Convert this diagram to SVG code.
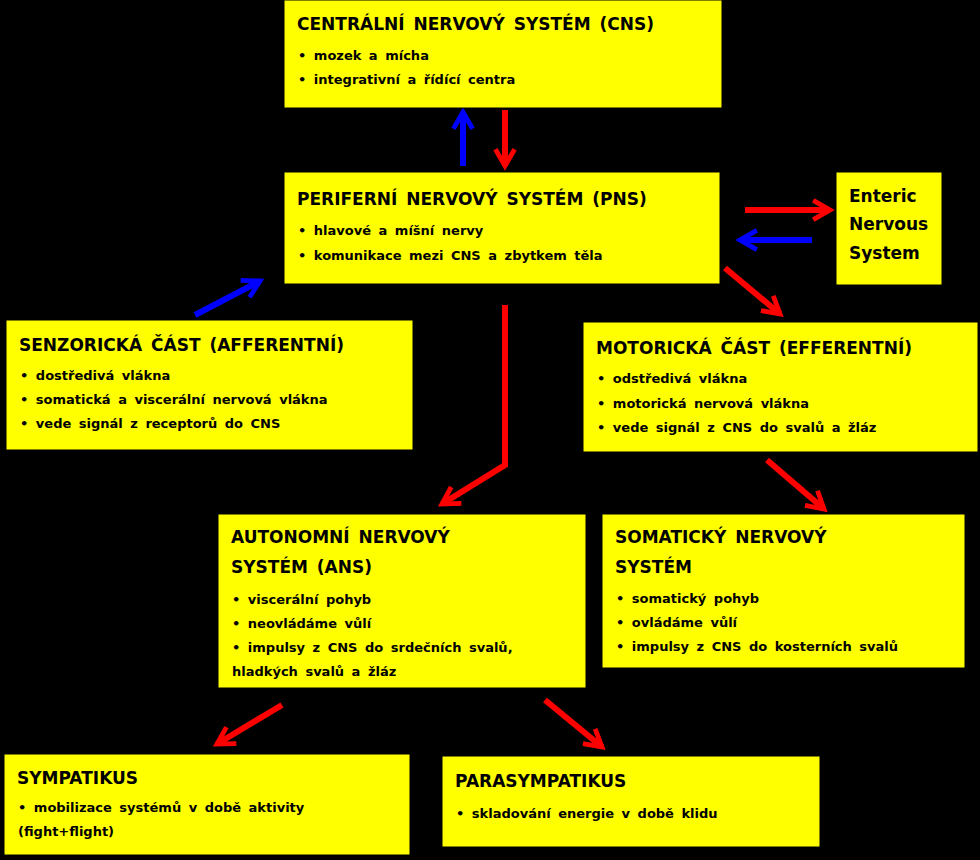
<svg xmlns="http://www.w3.org/2000/svg" width="980" height="860" viewBox="0 0 980 860">
<style>
.b{fill:#ffff00;stroke:#000;stroke-width:1}
.t{font-family:"DejaVu Sans",sans-serif;font-weight:bold;font-size:17px;fill:#000;word-spacing:3px}
.s{font-family:"DejaVu Sans",sans-serif;font-weight:bold;font-size:13px;fill:#000;word-spacing:3px}
.r{stroke:#ff0000;stroke-width:6;fill:none}
.u{stroke:#0000ff;stroke-width:6;fill:none}
</style>
<defs>
<marker id="mr" viewBox="0 0 10 10" refX="8" refY="5" markerWidth="4" markerHeight="4" orient="auto" markerUnits="strokeWidth"><polyline points="1,1 8,5 1,9" fill="none" stroke="#ff0000" stroke-width="2"/></marker>
<marker id="mb" viewBox="0 0 10 10" refX="8" refY="5" markerWidth="4" markerHeight="4" orient="auto" markerUnits="strokeWidth"><polyline points="1,1 8,5 1,9" fill="none" stroke="#0000ff" stroke-width="2"/></marker>
</defs>
<rect width="980" height="860" fill="#000"/>
<g id="connectors">
<line class="u" x1="463" y1="166" x2="463" y2="112" marker-end="url(#mb)"/>
<line class="r" x1="505" y1="110" x2="505" y2="166" marker-end="url(#mr)"/>
<line class="r" x1="745" y1="210" x2="830" y2="210" marker-end="url(#mr)"/>
<line class="u" x1="812" y1="240" x2="740" y2="240" marker-end="url(#mb)"/>
<line class="r" x1="725" y1="268" x2="780" y2="314" marker-end="url(#mr)"/>
<line class="u" x1="195" y1="315" x2="260" y2="281" marker-end="url(#mb)"/>
<polyline class="r" points="505,305 505,465 442,504" marker-end="url(#mr)"/>
<line class="r" x1="767" y1="460" x2="824" y2="509" marker-end="url(#mr)"/>
<line class="r" x1="282" y1="705" x2="217" y2="744" marker-end="url(#mr)"/>
<line class="r" x1="545" y1="700" x2="602" y2="747" marker-end="url(#mr)"/>
</g>
<g id="cns"><rect class="b" x="284" y="0" width="438" height="108"/>
<text class="t" x="297" y="30">CENTRÁLNÍ NERVOVÝ SYSTÉM (CNS)</text>
<text class="s" x="298" y="60">• mozek a mícha</text>
<text class="s" x="298" y="84">• integrativní a řídící centra</text></g>
<g id="pns"><rect class="b" x="284" y="172" width="436" height="112"/>
<text class="t" x="297" y="205">PERIFERNÍ NERVOVÝ SYSTÉM (PNS)</text>
<text class="s" x="298" y="235">• hlavové a míšní nervy</text>
<text class="s" x="298" y="260">• komunikace mezi CNS a zbytkem těla</text></g>
<g id="ens"><rect class="b" x="836" y="172" width="106" height="113"/>
<text class="t" x="849" y="202">Enteric</text>
<text class="t" x="849" y="230">Nervous</text>
<text class="t" x="849" y="259">System</text></g>
<g id="senz"><rect class="b" x="6" y="320" width="407" height="130"/>
<text class="t" x="19" y="351">SENZORICKÁ ČÁST (AFFERENTNÍ)</text>
<text class="s" x="20" y="380">• dostředivá vlákna</text>
<text class="s" x="20" y="404">• somatická a viscerální nervová vlákna</text>
<text class="s" x="20" y="428">• vede signál z receptorů do CNS</text></g>
<g id="mot"><rect class="b" x="583" y="322" width="395" height="130"/>
<text class="t" x="596" y="354">MOTORICKÁ ČÁST (EFFERENTNÍ)</text>
<text class="s" x="597" y="383">• odstředivá vlákna</text>
<text class="s" x="597" y="408">• motorická nervová vlákna</text>
<text class="s" x="597" y="432">• vede signál z CNS do svalů a žláz</text></g>
<g id="ans"><rect class="b" x="218" y="514" width="368" height="174"/>
<text class="t" x="231" y="543">AUTONOMNÍ NERVOVÝ</text>
<text class="t" x="231" y="573">SYSTÉM (ANS)</text>
<text class="s" x="232" y="604">• viscerální pohyb</text>
<text class="s" x="232" y="628">• neovládáme vůlí</text>
<text class="s" x="232" y="652">• impulsy z CNS do srdečních svalů,</text>
<text class="s" x="232" y="676">hladkých svalů a žláz</text></g>
<g id="som"><rect class="b" x="602" y="514" width="363" height="154"/>
<text class="t" x="615" y="543">SOMATICKÝ NERVOVÝ</text>
<text class="t" x="615" y="573">SYSTÉM</text>
<text class="s" x="616" y="603">• somatický pohyb</text>
<text class="s" x="616" y="627">• ovládáme vůlí</text>
<text class="s" x="616" y="651">• impulsy z CNS do kosterních svalů</text></g>
<g id="sym"><rect class="b" x="4" y="754" width="406" height="101"/>
<text class="t" x="17" y="784">SYMPATIKUS</text>
<text class="s" x="18" y="812">• mobilizace systémů v době aktivity</text>
<text class="s" x="18" y="836">(fight+flight)</text></g>
<g id="para"><rect class="b" x="442" y="756" width="378" height="91"/>
<text class="t" x="455" y="787">PARASYMPATIKUS</text>
<text class="s" x="456" y="818">• skladování energie v době klidu</text></g>
</svg>
